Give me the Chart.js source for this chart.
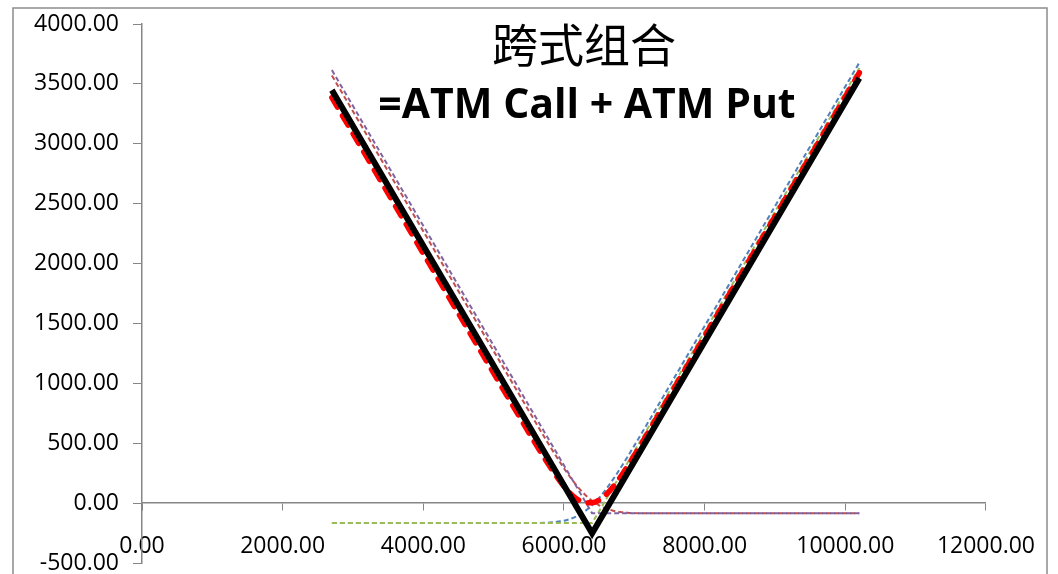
<!DOCTYPE html>
<html>
<head>
<meta charset="utf-8">
<script src="https://cdn.jsdelivr.net/npm/chart.js@4"></script>
<style>
body { margin: 0; background: #fff; }
#wrap { width: 1058px; height: 574px; }
</style>
</head>
<body>
<div id="wrap"><canvas id="chart"></canvas></div>
<script>
var titleText = "跨式组合";
var subtitleText = "=ATM Call + ATM Put";

// value before expiry (smooth curves)
var priceCurve    = [2700, 5400, 5600, 5800, 6000, 6100, 6200, 6300, 6400, 6500, 6600, 6700, 6800, 6900, 7000, 7200, 7400, 10200];
var callValue     = [-167, -167, -166, -162, -147, -130, -104, -67, -18, 44, 117, 200, 289, 383, 480, 678, 878, 3678];
var putValue      = [3570, 870, 671, 475, 291, 207, 133, 70, 20, -19, -46, -63, -74, -80, -83, -85, -85, -85];
var straddleValue = [3385, 688, 492, 305, 140, 75, 28, 3, 2, 25, 71, 137, 215, 303, 397, 593, 793, 3593];

// payoff at expiry
var priceExpiry    = [2700, 6400, 10200];
var callExpiry     = [-167, -167, 3633];
var putExpiry      = [3615, -85, -85];
var straddleExpiry = [3448, -252, 3548];

var xTicks = [0, 2000, 4000, 6000, 8000, 10000, 12000];
var yTicks = [-500, 0, 500, 1000, 1500, 2000, 2500, 3000, 3500, 4000];

function pts(xs, ys) {
  return xs.map(function(x, i) { return {x: x, y: ys[i]}; });
}

var axisColor = "#868686";
var labelFont = {family: "'Open Sans'", size: 23};

var frame = {
  id: 'frame',
  beforeDraw: function(chart) {
    var c = chart.ctx;
    c.save();
    c.fillStyle = "#fff";
    c.fillRect(0, 0, chart.width, chart.height);
    c.strokeStyle = "#8c8c8c";
    c.lineWidth = 1.5;
    c.strokeRect(13, 8, 1034, 600);
    c.restore();
  },
  afterDraw: function(chart) {
    var c = chart.ctx;
    c.save();
    c.fillStyle = "#000";
    c.textAlign = "center";
    c.textBaseline = "middle";
    c.font = "46px 'Noto Sans CJK SC'";
    c.fillText(titleText, 584, 45);
    c.font = "bold 41px 'Open Sans'";
    c.textBaseline = "alphabetic";
    c.fillText(subtitleText, 587, 118);
    c.restore();
  }
};

var ctx = document.getElementById("chart").getContext('2d');
var chart = new Chart(ctx, {
  type: 'scatter',
  data: {
    datasets: [{
      label: 'Straddle at expiry',
      data: pts(priceExpiry, straddleExpiry),
      borderColor: "#000000",
      borderWidth: 6,
      borderJoinStyle: 'miter'
    }, {
      label: 'Straddle',
      data: pts(priceCurve, straddleValue),
      borderColor: "#FF0000",
      borderWidth: 5.5,
      borderDash: [11, 10],
      borderCapStyle: 'round',
      cubicInterpolationMode: 'monotone'
    }, {
      label: 'Put at expiry',
      data: pts(priceExpiry, putExpiry),
      borderColor: "#8064A2",
      borderWidth: 2,
      borderDash: [5, 3]
    }, {
      label: 'Call at expiry',
      data: pts(priceExpiry, callExpiry),
      borderColor: "#9BBB59",
      borderWidth: 2,
      borderDash: [5, 3]
    }, {
      label: 'Put',
      data: pts(priceCurve, putValue),
      borderColor: "#C0504D",
      borderWidth: 2,
      borderDash: [5, 3],
      cubicInterpolationMode: 'monotone'
    }, {
      label: 'Call',
      data: pts(priceCurve, callValue),
      borderColor: "#4F81BD",
      borderWidth: 2,
      borderDash: [5, 3],
      cubicInterpolationMode: 'monotone'
    }]
  },
  options: {
    responsive: true,
    maintainAspectRatio: false,
    animation: false,
    showLine: true,
    elements: { point: { radius: 0, hoverRadius: 0 }, line: { fill: false } },
    layout: { padding: { left: 12, right: 72, top: 24, bottom: 11 } },
    plugins: { legend: { display: false }, tooltip: { enabled: false } },
    scales: {
      x: {
        type: 'linear',
        position: { y: 0 },
        min: 0,
        max: 12000,
        afterBuildTicks: function(s) { s.ticks = xTicks.map(function(v) { return {value: v}; }); },
        ticks: {
          color: "#000",
          font: labelFont,
          padding: 23,
          maxRotation: 0,
          autoSkip: false,
          callback: function(v) { return Number(v).toFixed(2); }
        },
        grid: { drawOnChartArea: false, color: axisColor, tickLength: 7 },
        border: { color: axisColor, width: 1.5 }
      },
      y: {
        type: 'linear',
        position: 'left',
        min: -500,
        max: 4000,
        afterBuildTicks: function(s) { s.ticks = yTicks.map(function(v) { return {value: v}; }); },
        afterFit: function(s) { s.width = 130; s.paddingTop = 0; s.paddingBottom = 0; },
        ticks: {
          color: "#000",
          font: labelFont,
          padding: 14,
          autoSkip: false,
          callback: function(v) { return Number(v).toFixed(2); }
        },
        grid: { drawOnChartArea: false, color: axisColor, tickLength: 9 },
        border: { color: axisColor, width: 1.5 }
      }
    }
  },
  plugins: [frame]
});
</script>
</body>
</html>
